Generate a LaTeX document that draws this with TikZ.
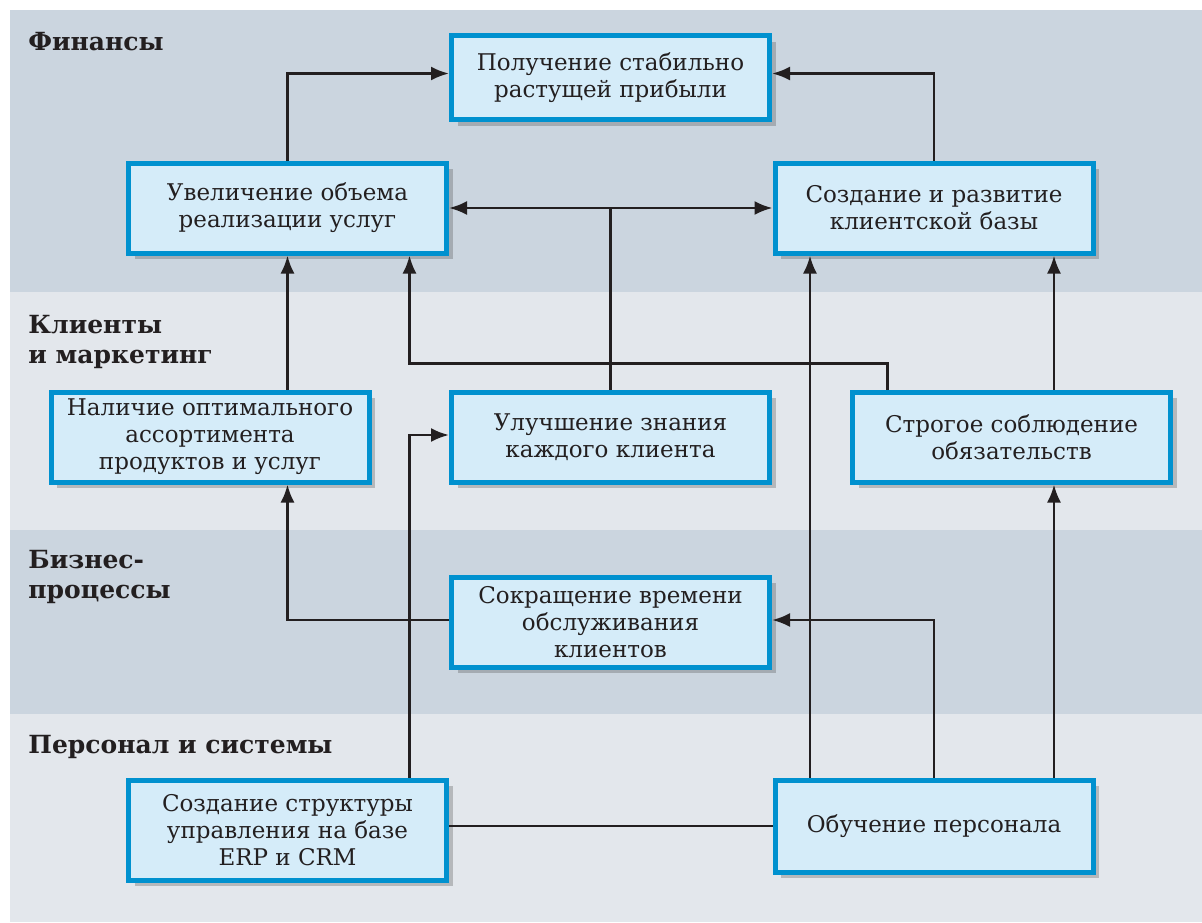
\documentclass[tikz,border=0pt]{standalone}
\usepackage{fontspec}
\setmainfont{DejaVu Serif}
\usepackage{tikz}
\usetikzlibrary{calc,arrows.meta,shadows}
\definecolor{banddark}{HTML}{CBD5DF}
\definecolor{bandlight}{HTML}{E3E7EC}
\definecolor{boxfill}{HTML}{D5ECF9}
\definecolor{boxline}{HTML}{0091CF}
\definecolor{ink}{HTML}{231F20}
\tikzset{>={Latex[length=9pt,width=7pt]}}
\begin{document}
\begin{tikzpicture}
[x=0.5pt, y=-0.5pt,
 goal/.style={draw=boxline, fill=boxfill, line width=2.5pt, minimum width=159pt, minimum height=45pt,
   align=center, text=ink, font=\fontsize{11.5}{13.5}\selectfont,
   drop shadow={shadow xshift=3pt, shadow yshift=-3pt, opacity=0.3, fill=black!70}},
 band/.style={font=\fontsize{12.5}{15}\selectfont\bfseries, text=ink, anchor=base west, align=left, inner sep=0pt},
 link/.style={draw=ink, line width=1.3pt}]
\useasboundingbox (0,0) rectangle (1202,922);
\fill[banddark] (10,10) rectangle (1202,292);
\fill[bandlight] (10,292) rectangle (1202,530);
\fill[banddark] (10,530) rectangle (1202,714);
\fill[bandlight] (10,714) rectangle (1202,922);

\node[band] (lfin) at (28,50) {Финансы};
\node[band] (lcli) at (28,363) {Клиенты\\и маркетинг};
\node[band] (lbus) at (28,598) {Бизнес-\\процессы};
\node[band] (lper) at (28,753) {Персонал и системы};

\node[goal, minimum height=42pt] (fin) at (610.5,77.5) {Получение стабильно\\растущей прибыли};
\node[goal] (vol) at (287.5,208) {Увеличение объема\\реализации услуг};
\node[goal] (base) at (934,208) {Создание и развитие\\клиентской базы};
\node[goal] (assort) at (210,437) {Наличие оптимального\\ассортимента\\продуктов и услуг};
\node[goal] (know) at (610.5,437) {Улучшение знания\\каждого клиента};
\node[goal] (oblig) at (1011.5,437) {Строгое соблюдение\\обязательств};
\node[goal] (time) at (610.5,622) {Сокращение времени\\обслуживания\\клиентов};
\node[goal, minimum height=50pt] (erp) at (287.5,830) {Создание структуры\\управления на базе\\ERP и CRM};
\node[goal, minimum height=46pt] (train) at (934,826) {Обучение персонала};

\draw[link,->] (vol.north) |- ([yshift=2pt]fin.west);
\draw[link,->] (base.north) |- ([yshift=2pt]fin.east);
\draw[link,<->] (vol.east) -- (base.west);
\draw[link] (know.north) -- (know.north |- vol.east);
\draw[link,->] ([xshift=-62pt]oblig.north) -- ++(0,-26) -| ([xshift=61pt]vol.south);
\draw[link,->] ([xshift=60pt]base.south |- oblig.north) -- ([xshift=60pt]base.south);
\draw[link,->] (vol.south |- assort.north) -- (vol.south);
\draw[link,->] ([xshift=-62pt]train.north) -- ([xshift=-62pt]base.south);
\draw[link,->] (train.north) |- ([yshift=1pt]time.east);
\draw[link,->] ([xshift=60pt]train.north) -- ([xshift=60pt]train.north |- oblig.south);
\draw[link,->] ([yshift=1pt]time.west) -| (vol.south |- assort.south);
\draw[link,->] ([xshift=61pt]erp.north) |- ([yshift=1pt]know.west);
\draw[link] (train.west -| erp.east) -- (train.west);
\end{tikzpicture}
\end{document}
